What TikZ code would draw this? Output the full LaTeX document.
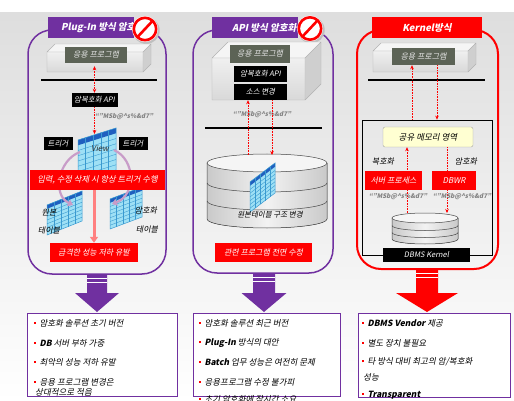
\documentclass[tikz,border=0pt]{standalone}
\usepackage{fontspec}
\setmainfont{Noto Sans CJK KR}[FakeSlant=0.2]
\usetikzlibrary{arrows.meta}

\definecolor{purp}{HTML}{7030A0}
\definecolor{krred}{HTML}{FF0000}
\definecolor{lbl}{HTML}{5C6356}
\definecolor{cellc}{HTML}{9EE0F5}
\definecolor{gridc}{HTML}{3A9AD0}
\definecolor{hdrc}{HTML}{1F5FBF}
\definecolor{arcc}{HTML}{C89CC8}
\definecolor{memc}{HTML}{FFFFD2}

% skewed table grid: x0, y0 (top-left), width, height, rise of the right side
\newcommand\gridtab[5]{%
  \fill[cellc] (#1,#2) -- ++(#3,-#5) -- ++(0,#4) -- ++(-#3,#5) -- cycle;
  \fill[hdrc] (#1,#2) -- ++(#3,-#5) -- ++(0,{#4/8}) -- ++(-#3,#5) -- cycle;
  \foreach \gr in {2,...,7} \draw[gridc, line width=0.4pt] (#1,{#2+\gr*#4/8}) -- ++(#3,-#5);
  \foreach \gc in {1,...,4} \draw[gridc, line width=0.4pt] ({#1+\gc*#3/5},{#2-\gc*#5/5}) -- ++(0,#4);
  \draw[gridc, line width=0.5pt] (#1,#2) -- ++(#3,-#5) -- ++(0,#4) -- ++(-#3,#5) -- cycle;
}
% prohibition sign: centre x, centre y
\newcommand\nosign[2]{%
  \fill[black!25] ({#1+1.2},{#2+1.5}) circle[radius=13.5pt];
  \fill[white] (#1,#2) circle[radius=13pt];
  \draw[krred, line width=2.6pt] (#1,#2) circle[radius=11.2pt];
  \draw[krred, line width=2.6pt] ({#1+7.5},{#2-8}) -- ({#1-7.5},{#2+8});
}
% grey slab: front x0 y0 x1 y1, depth
\newcommand\slab[5]{%
  \fill[gray!8] (#1,#2) -- ({#1+#5},{#2-#5}) -- ({#3+#5},{#2-#5}) -- (#3,#2) -- cycle;
  \fill[gray!38] (#3,#2) -- ({#3+#5},{#2-#5}) -- ({#3+#5},{#4-#5}) -- (#3,#4) -- cycle;
  \shade[top color=gray!12, bottom color=gray!30] (#1,#2) rectangle (#3,#4);
  \draw[gray!60, line width=0.4pt] (#1,#2) -- ({#1+#5},{#2-#5}) -- ({#3+#5},{#2-#5})
    -- ({#3+#5},{#4-#5}) -- (#3,#4) -- (#1,#4) -- cycle
    (#1,#2) -- (#3,#2) -- ({#3+#5},{#2-#5}) (#3,#2) -- (#3,#4);
}
% disk stack: cx, rx, ry, y of top, y of bottom, band list
\newcommand\drum[6]{%
  \fill[left color=gray!42, right color=gray!42, middle color=gray!10]
    ({#1-#2},#4) -- ({#1-#2},#5) arc[start angle=180,end angle=360,x radius=#2pt,y radius=#3pt]
    -- ({#1+#2},#4) -- cycle;
  \draw[gray!55!black, line width=0.5pt]
    ({#1-#2},#4) -- ({#1-#2},#5) arc[start angle=180,end angle=360,x radius=#2pt,y radius=#3pt]
    -- ({#1+#2},#4);
  \foreach \yb in {#6} \draw[gray!55!black, line width=0.5pt]
    ({#1-#2},\yb) arc[start angle=180,end angle=360,x radius=#2pt,y radius=#3pt];
  \draw[gray!55!black, line width=0.5pt, fill=gray!8] (#1,#4) ellipse[x radius=#2pt, y radius=#3pt];
}
% thick down arrow with striped stub: centre x, top y, colour, half head, half shaft
\newcommand\bigarrow[5]{%
  \fill[#3] ({#1-#5},#2) -- ({#1+#5},#2) -- ({#1+#5},293) -- ({#1+#4},293) -- (#1,312)
    -- ({#1-#4},293) -- ({#1-#5},293) -- cycle;
  \draw[white, line width=0.8pt] ({#1-#5},{#2+4}) -- ({#1+#5},{#2+4})
    ({#1-#5},{#2+8.5}) -- ({#1+#5},{#2+8.5});
}
\newcommand\bul{{\color{krred}\rule[2.4pt]{1.9pt}{1.9pt}}\hspace{3.5pt}}
\newcommand\ciphertext{``"MSb@\textasciicircum s\%\&d7"}

\begin{document}
\begin{tikzpicture}[x=1pt,y=-1pt,
  panel/.style={line width=1.5pt, rounded corners=24pt},
  titlebox/.style={inner sep=0pt, minimum height=21pt},
  ttext/.style={text=white, font=\fontsize{9.5}{10}\selectfont\bfseries, inner sep=0pt},
  lblbox/.style={fill=lbl, text=gray!20, font=\fontsize{8}{9}\selectfont, inner sep=0pt, minimum height=16pt},
  blk/.style={fill=black, text=white, font=\fontsize{7.5}{8}\selectfont, inner sep=0pt, minimum height=14pt},
  rbox/.style={fill=krred, text=white, font=\fontsize{8}{9}\selectfont, inner sep=0pt, minimum height=19pt},
  cipher/.style={text=gray, font=\fontsize{6.3}{7}\selectfont\bfseries, inner sep=0pt},
  plain/.style={text=black, font=\fontsize{8}{9}\selectfont, inner sep=0pt},
  sepline/.style={line width=1.6pt},
  dotarr/.style={draw=krred, densely dotted, line width=0.6pt, -{Stealth[length=4pt,width=3.5pt]}},
  dotboth/.style={draw=krred, densely dotted, line width=0.6pt, {Stealth[length=4pt,width=3.5pt]}-{Stealth[length=4pt,width=3.5pt]}},
  arcarr/.style={draw=arcc, line width=2.2pt, -{Triangle[length=5pt,width=7pt]}},
  droparr/.style={draw=krred!50, line width=3pt, -{Triangle[length=6pt,width=8pt]}},
  lst/.style={draw=purp, fill=white, line width=1pt},
  item/.style={font=\fontsize{8.5}{10}\selectfont, inner sep=0pt, anchor=west}]
\useasboundingbox (0,0) rectangle (514,401);

% backdrop
\fill[white] (0,0) rectangle (514,401);
\shade[top color=black!13, bottom color=white] (0,13) rectangle (514,401);

% ===== Plug-In panel =====
\draw[panel, draw=purp] (28,30) rectangle (166,274);
\node[titlebox, fill=purp, minimum width=86pt] (titleL) at (91,27.5) {};
\node[ttext, anchor=west] (titleLt) at (61,27.5) {Plug-In 방식 암호화};
\nosign{145}{29}
\slab{47}{52}{143}{72}{8}
\node[lblbox, minimum width=62pt] (appL) at (96,55) {응용 프로그램};
\draw[sepline] (41,80) -- (157,80);
\node[blk, minimum width=46pt] (apiL) at (94.5,100) {암복호화 API};
\draw[dotboth, shorten >=3pt] (apiL.north) -- (apiL.north |- appL.south);
\coordinate (viewtop) at (94.5,134);
\draw[dotarr] (apiL.south) -- (viewtop);
\node[cipher] (cipL) at (124,117) {\ciphertext};

\gridtab{47}{205}{35}{30}{14}
\gridtab{110}{199}{32}{30}{12}
\gridtab{78}{140}{38}{42}{12}
\node[font=\fontsize{8}{9}\selectfont, text=black!80, inner sep=0pt] (viewlbl) at (100,148) {View};
\draw[arcarr] (80,152) .. controls (58,160) and (52,195) .. (73,205);
\draw[arcarr] (114,150) .. controls (136,160) and (136,195) .. (112,204);
\node[blk, minimum width=29pt, minimum height=13pt] (trigL) at (58,143.5) {트리거};
\node[blk, minimum width=29pt, minimum height=13pt] (trigR) at (133,143.5) {트리거};
\node[rbox, minimum width=135pt, minimum height=20pt, font=\fontsize{8.3}{9}\selectfont] (bannerL) at (97.5,180) {입력, 수정 삭제 시 항상 트리거 수행};
\node[plain] (origA) at (49,212) {원본};
\node[plain] (origB) at (49,231) {테이블};
\node[plain] (encA) at (146,211) {암호화};
\node[plain] (encB) at (147,230) {테이블};
\node[rbox, minimum width=88pt] (dropL) at (94,252.5) {급격한 성능 저하 유발};
\draw[droparr] (bannerL.south -| dropL.north) -- (dropL.north);
\bigarrow{97}{274}{purp}{22}{10}

% ===== API panel =====
\draw[panel, draw=purp] (193,30) rectangle (333,273);
\node[titlebox, fill=purp, minimum width=86pt] (titleM) at (255,27.5) {};
\node[ttext, anchor=west] (titleMt) at (232,27.5) {API 방식 암호화};
\nosign{310}{28.5}
\slab{212}{58}{305}{100}{16}
\node[lblbox, minimum width=60pt, minimum height=18pt] (appM) at (260,54) {응용 프로그램};
\node[blk, minimum width=53pt, minimum height=16pt] (apiM) at (260.5,74) {암복호화 API};
\node[blk, minimum width=53pt, minimum height=16pt] (srcM) at (260.5,92) {소스 변경};
\node[cipher] (cipM) at (262,115) {\ciphertext};
\draw[sepline] (205,128) -- (322,128);
\drum{267}{60}{9}{163}{219}{183,201}
\gridtab{250}{182}{25}{30}{19}
\node[plain, font=\fontsize{7.5}{8}\selectfont] (dbtxtM) at (270,215) {원본테이블 구조 변경};
\coordinate (dbtopM) at (267,155);
\draw[dotarr] ([xshift=-19pt]dbtopM) -- ([xshift=-12.5pt]srcM.south);
\draw[dotarr] ([xshift=11.5pt]srcM.south) -- ([xshift=5pt]dbtopM);
\node[rbox, minimum width=97pt] (fixM) at (263.5,252.5) {관련 프로그램 전면 수정};
\bigarrow{264}{273}{purp}{22.5}{11}

% ===== Kernel panel =====
\draw[panel, draw=krred, line width=2pt] (357,30) rectangle (498,269);
\node[titlebox, fill=krred, minimum width=110pt, ttext] (titleR) at (427,27.5) {Kernel방식};
\slab{373}{51}{468}{72}{8}
\node[lblbox, minimum width=63pt, minimum height=17pt] (appR) at (423.5,56.5) {응용 프로그램};
\draw[sepline] (368,80) -- (485,80);
\node[draw=black, line width=0.8pt, minimum width=130pt, minimum height=135pt, inner sep=0pt] (krect) at (427,187.5) {};
\draw[dotarr] ([xshift=-15pt]krect.north) -- ([xshift=-11.5pt]appR.south);
\draw[dotarr] ([xshift=13.5pt]appR.south) -- ([xshift=10pt]krect.north);
\node[draw=gray!70, fill=memc, rounded corners=2pt, minimum width=90pt, minimum height=20pt, plain, font=\fontsize{8.5}{9}\selectfont] (mem) at (428,137) {공유 메모리 영역};
\node[plain] (decl) at (383,162) {복호화};
\node[plain] (encl) at (466,162) {암호화};
\drum{425}{33}{5}{218}{239}{225.5,232.5}
\coordinate (dbtopR) at (425,213);
\draw[dotarr] ([xshift=-18pt]dbtopR) -- ([xshift=-21pt]mem.south);
\draw[dotarr] ([xshift=19pt]mem.south) -- ([xshift=22pt]dbtopR);
\node[rbox, minimum width=57pt] (srv) at (393.5,180.5) {서버 프로세스};
\node[rbox, minimum width=44pt] (dbwr) at (454,180.5) {DBWR};
\node[cipher] (cipR1) at (398,197) {\ciphertext};
\node[cipher] (cipR2) at (462,197) {\ciphertext};
\node[blk, minimum width=87pt] (kern) at (426.5,255) {DBMS Kernel};
\bigarrow{427}{269}{krred}{31}{11}

% ===== summary lists =====
\draw[lst] (27,313) rectangle (177,396);
\node[item] (l1) at (34,323) {\bul 암호화 솔루션 초기 버전};
\node[item] (l2) at (34,343) {\bul \textbf{DB} 서버 부하 가중};
\node[item] (l3) at (34,362) {\bul 최악의 성능 저하 유발};
\node[item] (l4) at (34,382) {\bul 응용 프로그램 변경은};
\node[item] (l5) at (35,392) {상대적으로 적음};

\draw[lst] (193,313) rectangle (340,396);
\node[item] (m1) at (199,323) {\bul 암호화 솔루션 최근 버전};
\node[item] (m2) at (199,343) {\bul \textbf{Plug-In} 방식의 대안};
\node[item] (m3) at (199,362) {\bul \textbf{Batch} 업무 성능은 여전히 문제};
\node[item] (m4) at (199,382) {\bul 응용프로그램 수정 불가피};
\node[item] (m5) at (199,399) {\bul 초기 암호화에 장시간 소요};

\draw[lst] (358,313) rectangle (510,397);
\node[item] (r1) at (362,323) {\bul \textbf{DBMS Vendor} 제공};
\node[item] (r2) at (362,343) {\bul 별도 장치 불필요};
\node[item] (r3) at (362,362) {\bul 타 방식 대비 최고의 암/복호화};
\node[item] (r4) at (363,377) {성능};
\node[item] (r5) at (362,395) {\bul \textbf{Transparent}};
\end{tikzpicture}
\end{document}
